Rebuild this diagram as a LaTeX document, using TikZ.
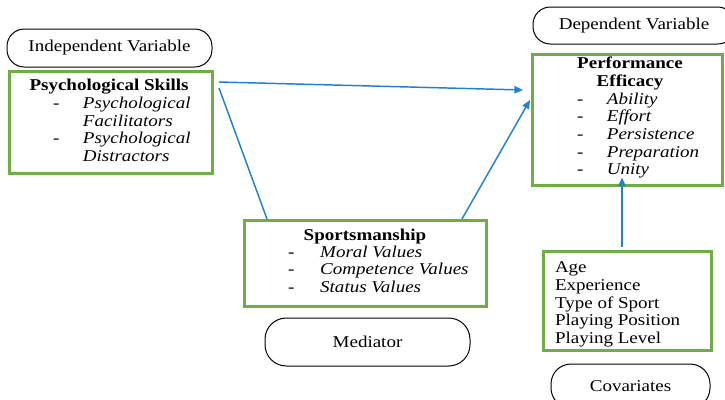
\documentclass[tikz,border=0pt]{standalone}
\usepackage{fontspec}
\setmainfont{Liberation Serif}
\usetikzlibrary{calc,arrows.meta}
\definecolor{boxgreen}{RGB}{112,173,71}
\definecolor{arrowblue}{RGB}{35,130,205}
\newcommand{\dsh}[1][19.5pt]{\makebox[#1][l]{-}}
\newcommand{\sx}[1]{\scalebox{1.15}[1]{#1}}
\tikzset{
  greenbox/.style={draw=boxgreen,line width=2.25pt,inner sep=0pt,outer sep=0pt},
  pill/.style={draw=black,line width=0.75pt,rounded corners=13pt,inner sep=0pt,outer sep=0pt,
    font=\fontsize{12.4}{13.3}\selectfont},
  txt/.style={inner sep=0pt,outer sep=0pt,font=\fontsize{12.4}{13.3}\selectfont},
  conn/.style={draw=arrowblue,line width=1.1pt},
  tipped/.style={conn,-{Triangle[length=6.5pt,width=5.5pt]}}
}
\begin{document}
\begin{tikzpicture}[x=0.75pt,y=-0.75pt]
\clip (0,0) rectangle (725,400);
\fill[white] (0,0) rectangle (725,400);
% boxes
\node[greenbox,minimum width=152.25pt,minimum height=76.5pt] (psy) at (111,122.5) {};
\node[greenbox,minimum width=142.5pt,minimum height=98.25pt] (pe) at (627.5,120) {};
\node[greenbox,minimum width=181.5pt,minimum height=64.5pt] (sp) at (365.5,263.5) {};
\node[greenbox,minimum width=126pt,minimum height=74.25pt] (cov) at (627.5,301) {};
% pills
\node[pill,minimum width=153.75pt,minimum height=28.5pt] (iv) at (109.5,48) {\sx{Independent Variable}};
\node[pill,minimum width=151.5pt,minimum height=27.75pt] (dv) at (634,25.5) {\sx{Dependent Variable}};
\node[pill,minimum width=153.75pt,minimum height=36pt,rounded corners=16pt] (med) at (367.5,342) {\sx{Mediator}};
\node[pill,minimum width=119.25pt,minimum height=33pt,rounded corners=15pt] (covl) at (630.5,386) {\sx{Covariates}};
% texts
\node[txt,anchor=base] (psyt) at (109,90) {\sx{\textbf{Psychological Skills}}};
\node[txt,anchor=base west] (psyl) at (53,108.3) {\sx{\begin{tabular}[t]{@{}l@{}}
\dsh\textit{Psychological}\\
\hspace*{19.5pt}\textit{Facilitators}\\
\dsh\textit{Psychological}\\
\hspace*{19.5pt}\textit{Distractors}
\end{tabular}}};
\node[txt,anchor=base] (pet) at (630,68.3) {\sx{\begin{tabular}[t]{@{}c@{}}
\textbf{Performance}\\ \textbf{Efficacy}\end{tabular}}};
\node[txt,anchor=base west] (pel) at (577,104) {\sx{\begin{tabular}[t]{@{}l@{}}
\dsh\textit{Ability}\\
\dsh\textit{Effort}\\
\dsh\textit{Persistence}\\
\dsh\textit{Preparation}\\
\dsh\textit{Unity}
\end{tabular}}};
\node[txt,anchor=base] (spt) at (365,240) {\sx{\textbf{Sportsmanship}}};
\node[txt,anchor=base west] (spl) at (288,257) {\sx{\begin{tabular}[t]{@{}l@{}}
\dsh[21pt]\textit{Moral Values}\\
\dsh[21pt]\textit{Competence Values}\\
\dsh[21pt]\textit{Status Values}
\end{tabular}}};
\node[txt,anchor=base west] (covt) at (555,272.7) {\sx{\begin{tabular}[t]{@{}l@{}}
Age\\ Experience\\ Type of Sport\\ Playing Position\\ Playing Level
\end{tabular}}};
% connectors
\draw[tipped] ($(psy.north east)+(6.5,10.5)$) -- ($(pe.north west)+(-9.5,35.5)$);
\draw[conn] ($(psy.north east)+(6.5,16.5)$) -- ($(sp.north west)+(22.5,-1.5)$);
\draw[tipped] ($(sp.north east)+(-24.5,-1.5)$) -- ($(pe.north west)+(-2.5,45.5)$);
\draw[tipped] ($(cov.north)+(-5.5,-4.5)$) -- ($(pe.south)+(-5.5,-8)$);
\end{tikzpicture}
\end{document}
